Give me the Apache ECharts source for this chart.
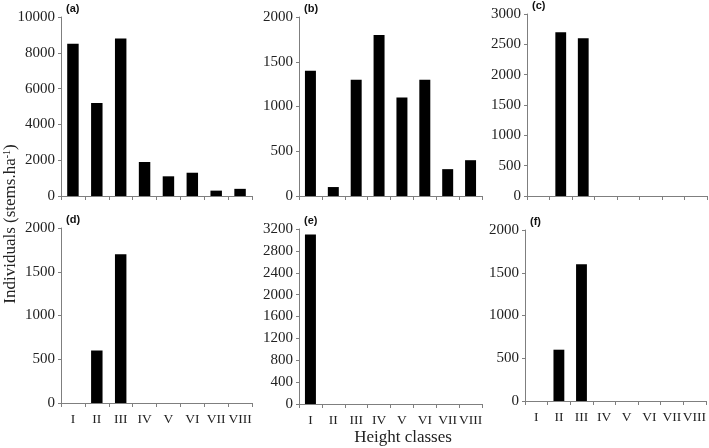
<!DOCTYPE html>
<html>
<head>
<meta charset="utf-8">
<script src="https://cdn.jsdelivr.net/npm/echarts@6/dist/echarts.min.js"></script>
<style>
  html, body { margin: 0; padding: 0; background: #fff; }
  #chart { width: 709px; height: 448px; }
</style>
</head>
<body>
<div id="chart"></div>
<script>
// height classes on every x axis
const heightClasses = ['I', 'II', 'III', 'IV', 'V', 'VI', 'VII', 'VIII'];

// individuals per height class, one array per panel
const panelA = [8500, 5200, 8800, 1900, 1100, 1300, 300, 400];
const panelB = [1400, 100, 1300, 1800, 1100, 1300, 300, 400];
const panelC = [0, 2700, 2600, 0, 0, 0, 0, 0];
const panelD = [0, 600, 1700, 0, 0, 0, 0, 0];
const panelE = [3100, 0, 0, 0, 0, 0, 0, 0];
const panelF = [0, 600, 1600, 0, 0, 0, 0, 0];

// y axis ticks per panel
const yMax = [10000, 2000, 3000, 2000, 3200, 2000];
const yStep = [2000, 500, 500, 500, 400, 500];
const panelNames = ['(a)', '(b)', '(c)', '(d)', '(e)', '(f)'];

const panels = [panelA, panelB, panelC, panelD, panelE, panelF];

// pixel boxes of the six plots
const boxes = [
    {left: 61, top: 17, width: 191, height: 179},
    {left: 299, top: 17, width: 183, height: 179},
    {left: 527, top: 14, width: 180, height: 182},
    {left: 61, top: 228, width: 191, height: 175},
    {left: 299, top: 229, width: 183, height: 175},
    {left: 525, top: 230, width: 182, height: 171}
];

const axisColor = '#7f7f7f';
const serif = '"Liberation Serif", "Times New Roman", serif';

let chart = echarts.init(document.getElementById('chart'));

let grid = [], xAxis = [], yAxis = [], series = [], graphic = [];

boxes.forEach((b, i) => {
    grid.push({left: b.left, top: b.top, width: b.width, height: b.height, containLabel: false});
    xAxis.push({
        type: 'category',
        gridIndex: i,
        data: heightClasses,
        axisLine: {lineStyle: {color: axisColor, width: 1}},
        axisTick: {show: true, length: 4, lineStyle: {color: axisColor}},
        axisLabel: {
            show: i >= 3,
            color: '#222',
            fontFamily: serif,
            fontSize: 13.5,
            margin: 9,
            interval: 0
        },
        splitLine: {show: false}
    });
    yAxis.push({
        type: 'value',
        gridIndex: i,
        min: 0,
        max: yMax[i],
        interval: yStep[i],
        axisLine: {show: true, lineStyle: {color: axisColor, width: 1}},
        axisTick: {show: true, length: 3, lineStyle: {color: axisColor}},
        axisLabel: {
            color: '#222',
            fontFamily: serif,
            fontSize: 15,
            margin: 6,
            formatter: v => String(v)
        },
        splitLine: {show: false}
    });
    series.push({
        type: 'bar',
        xAxisIndex: i,
        yAxisIndex: i,
        data: panels[i],
        barWidth: '48%',
        itemStyle: {color: '#000'},
        animation: false
    });
    graphic.push({
        type: 'text',
        left: b.left + 5,
        top: b.top - 14,
        style: {
            text: panelNames[i],
            font: 'bold 11px "Liberation Sans", Arial, sans-serif',
            fill: '#111'
        }
    });
});

// shared axis titles
graphic.push({
    type: 'text',
    x: 11,
    y: 224,
    rotation: Math.PI / 2,
    style: {
        text: '{a|Individuals (stems.ha}{s|-1}{a|)}',
        align: 'center',
        verticalAlign: 'middle',
        rich: {
            a: {fontFamily: serif, fontSize: 17, fill: '#222', color: '#222'},
            s: {fontFamily: serif, fontSize: 10, fill: '#222', color: '#222', verticalAlign: 'top', padding: [0, 0, 8, 0]}
        }
    }
});
graphic.push({
    type: 'text',
    x: 403,
    y: 438,
    style: {
        text: 'Height classes',
        font: '17px "Liberation Serif", "Times New Roman", serif',
        fill: '#222',
        align: 'center',
        verticalAlign: 'middle'
    }
});

let option = {
    backgroundColor: '#fff',
    animation: false,
    grid: grid,
    xAxis: xAxis,
    yAxis: yAxis,
    series: series,
    graphic: graphic
};

chart.setOption(option, true);
</script>
</body>
</html>
